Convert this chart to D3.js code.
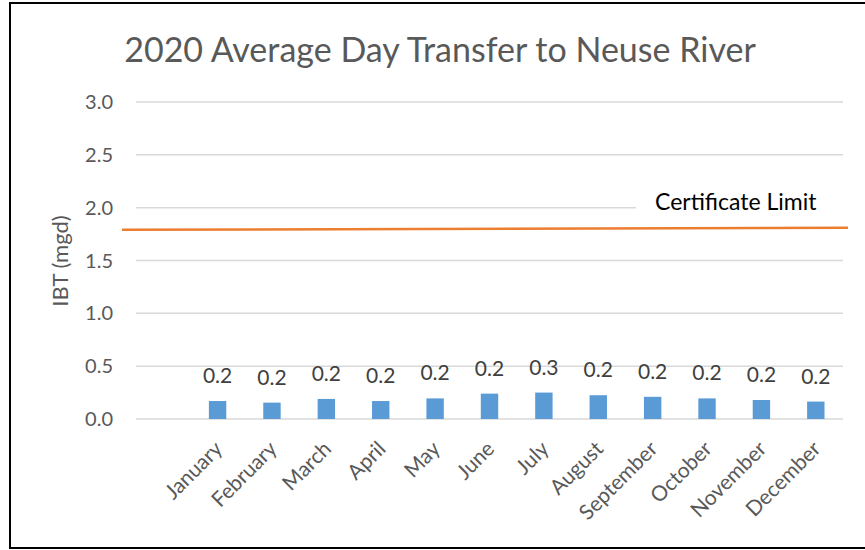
<!DOCTYPE html>
<html lang="en">
<head>
  <title>2020 Average Day Transfer to Neuse River</title>
  <meta charset="UTF-8">
  <style>
    body { margin: 0; background: #fff; font-family: Lato, sans-serif; }
  </style>
  <script src="https://cdn.jsdelivr.net/npm/d3@7"></script>
</head>
<body>
  <script>
    var months = ["January", "February", "March", "April", "May", "June",
                  "July", "August", "September", "October", "November", "December"];
    var transfer = [0.17, 0.155, 0.19, 0.17, 0.195, 0.24, 0.25, 0.225, 0.21, 0.195, 0.18, 0.165];
    var yTicks = [0, 0.5, 1, 1.5, 2, 2.5, 3];
    var limitValues = [1.79, 1.81]; // certificate limit line, left and right end
    var limitLabel = "Certificate Limit";

    var W = 865, H = 550;
    var svg = d3.select("body").append("svg").attr("width", W).attr("height", H);

    // frame
    svg.append("rect")
      .attr("x", 10).attr("y", 3).attr("width", W).attr("height", 545)
      .attr("fill", "#fff").attr("stroke", "#000").attr("stroke-width", 2);

    var y = d3.scaleLinear().domain([0, 3]).range([419, 102]);
    // first slot is left empty, as in the workbook
    var x = d3.scaleBand().domain([""].concat(months)).range([136, 843]).paddingInner(0.68).paddingOuter(0.34);

    // gridlines
    svg.append("g").selectAll("line").data(yTicks).enter().append("line")
      .attr("x1", 136).attr("x2", 843)
      .attr("y1", function(d) { return y(d); }).attr("y2", function(d) { return y(d); })
      .attr("stroke", "#d9d9d9").attr("stroke-width", 1.5);

    // y tick labels
    svg.append("g").selectAll("text").data(yTicks).enter().append("text")
      .attr("x", 113).attr("y", function(d) { return y(d); })
      .attr("dy", "0.35em").attr("text-anchor", "end")
      .attr("fill", "#595959").style("font-size", "20px")
      .text(d3.format(".1f"));

    svg.append("text")
      .attr("transform", "translate(60," + 261 + ")rotate(-90)")
      .attr("text-anchor", "middle").attr("dy", "0.35em")
      .attr("fill", "#595959").style("font-size", "22px")
      .text("IBT (mgd)");

    // bars
    svg.append("g").selectAll("rect").data(transfer).enter().append("rect")
      .attr("x", function(d, i) { return x(months[i]); })
      .attr("y", function(d) { return y(d); })
      .attr("width", x.bandwidth())
      .attr("height", function(d) { return y(0) - y(d); })
      .attr("fill", "#5b9bd5");

    // value labels
    svg.append("g").selectAll("text").data(transfer).enter().append("text")
      .attr("x", function(d, i) { return x(months[i]) + x.bandwidth() / 2; })
      .attr("y", function(d) { return y(d) - 18; })
      .attr("text-anchor", "middle")
      .attr("fill", "#404040").style("font-size", "21px")
      .text(d3.format(".1f"));

    // month labels
    svg.append("g").selectAll("text").data(months).enter().append("text")
      .attr("transform", function(d) {
        return "translate(" + (x(d) + x.bandwidth() / 2 + 1) + ",445)rotate(-45)";
      })
      .attr("text-anchor", "end").attr("dy", "0.35em")
      .attr("fill", "#595959").style("font-size", "21px")
      .text(function(d) { return d; });

    // certificate limit
    svg.append("rect")
      .attr("x", 636).attr("y", y(2) - 16).attr("width", 210).attr("height", 26)
      .attr("fill", "#fff");
    svg.append("text")
      .attr("x", 655).attr("y", y(2) + 2)
      .attr("fill", "#000").style("font-size", "23px")
      .text(limitLabel);
    svg.append("line")
      .attr("x1", 122).attr("x2", 848)
      .attr("y1", y(limitValues[0])).attr("y2", y(limitValues[1]))
      .attr("stroke", "#ed7d31").attr("stroke-width", 2.5);

    // title
    svg.append("text")
      .attr("x", 440).attr("y", 62).attr("text-anchor", "middle")
      .attr("fill", "#595959").style("font-size", "34px")
      .text("2020 Average Day Transfer to Neuse River");
  </script>
</body>
</html>
